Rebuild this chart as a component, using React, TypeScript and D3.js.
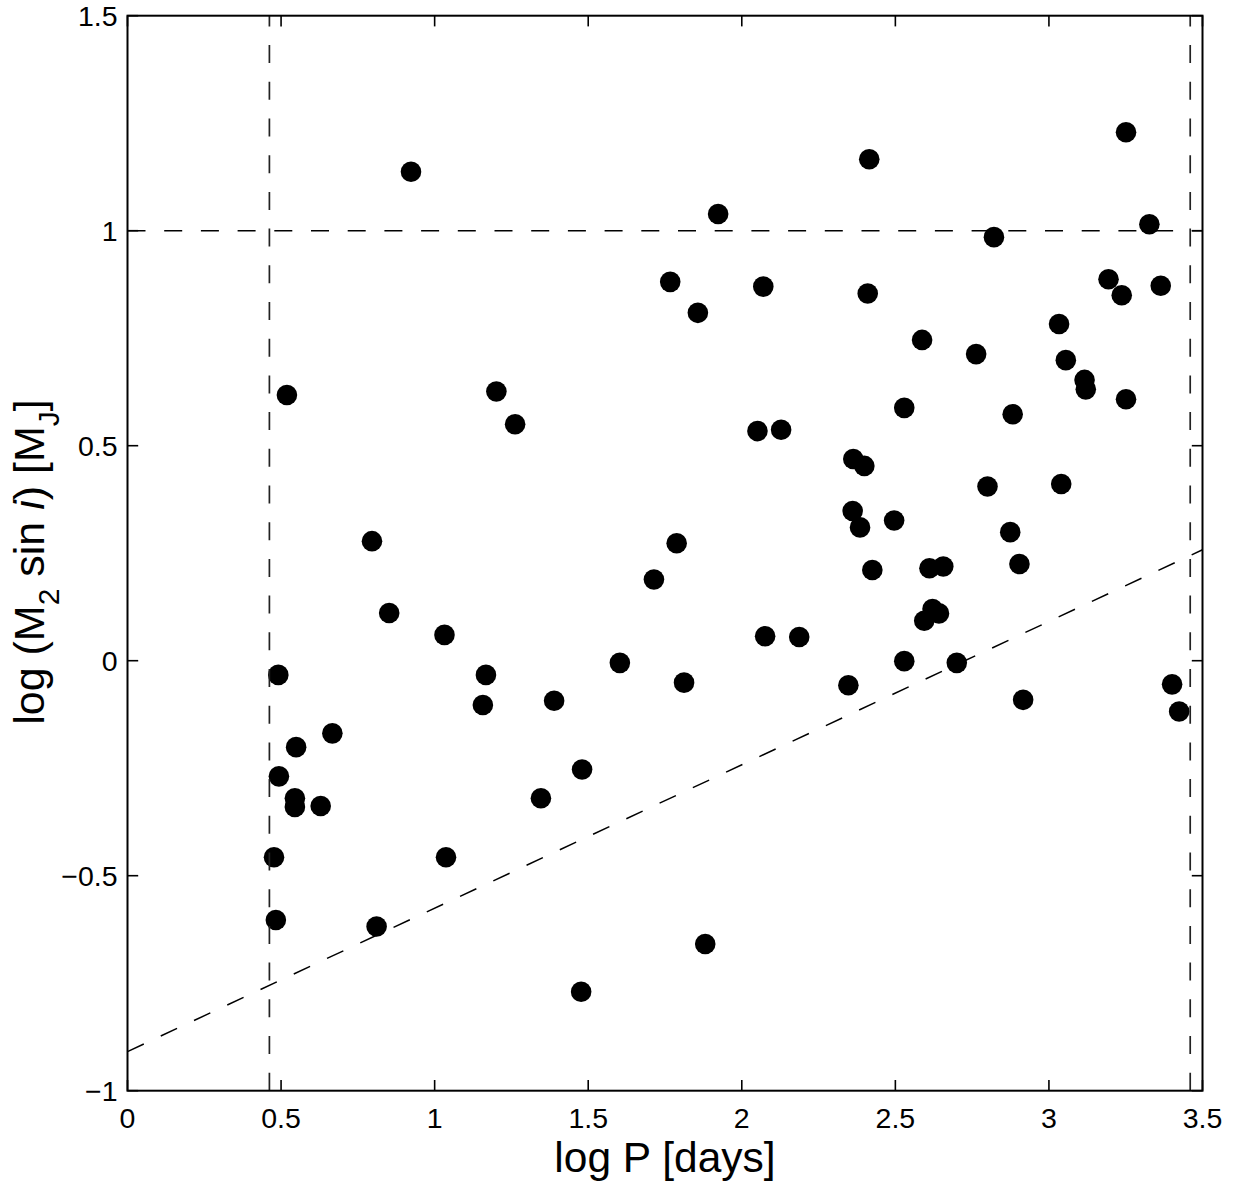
import React from 'react';
import * as d3 from 'd3';

// ---- data ----
const logP: number[] = [
  0.923, 3.251, 2.415, 1.923, 2.821, 3.327, 1.767, 1.857, 2.070, 2.410,
  3.194, 3.237, 3.364, 3.033, 3.055, 3.116, 3.120, 3.251, 2.587, 2.763,
  0.519, 1.201, 1.262, 2.051, 2.128, 2.529, 2.882, 2.363, 2.399, 2.800,
  3.040, 2.361, 2.385, 2.496, 2.874, 0.796, 1.788, 1.714, 2.425, 2.611,
  2.656, 2.904, 0.852, 2.621, 2.642, 2.594, 1.032, 2.076, 2.187, 0.491,
  1.167, 1.603, 2.529, 2.700, 1.812, 2.347, 3.401, 3.424, 2.916, 1.157,
  1.389, 0.667, 0.549, 0.493, 1.480, 0.545, 0.545, 0.629, 1.346, 0.477,
  1.037, 0.483, 0.811, 1.881, 1.477,
];
const logM: number[] = [
  1.137, 1.229, 1.166, 1.039, 0.985, 1.015, 0.881, 0.809, 0.870, 0.854,
  0.887, 0.850, 0.872, 0.783, 0.699, 0.653, 0.631, 0.608, 0.746, 0.713,
  0.618, 0.626, 0.550, 0.534, 0.537, 0.588, 0.573, 0.469, 0.453, 0.405,
  0.411, 0.348, 0.310, 0.326, 0.299, 0.278, 0.273, 0.189, 0.211, 0.215,
  0.219, 0.225, 0.111, 0.120, 0.110, 0.093, 0.060, 0.057, 0.055, -0.033,
  -0.033, -0.005, -0.001, -0.005, -0.051, -0.057, -0.055, -0.118, -0.091, -0.103,
  -0.093, -0.169, -0.201, -0.269, -0.253, -0.320, -0.340, -0.338, -0.320, -0.457,
  -0.457, -0.603, -0.618, -0.659, -0.770,
];

const xTicks: number[] = [0, 0.5, 1, 1.5, 2, 2.5, 3, 3.5];
const xTickLabels: string[] = ['0', '0.5', '1', '1.5', '2', '2.5', '3', '3.5'];
const yTicks: number[] = [-1, -0.5, 0, 0.5, 1, 1.5];
const yTickLabels: string[] = ['\u22121', '\u22120.5', '0', '0.5', '1', '1.5'];

const xDomain: [number, number] = [0, 3.5];
const yDomain: [number, number] = [-1, 1.5];

// reference lines
const verticalLines: number[] = [0.462, 3.46];
const horizontalLines: number[] = [1];
const diagonalLine: [number, number][] = [[0, -0.909], [3.5, 0.258]];

// ---- layout ----
const W = 1239;
const H = 1188;
const left = 127.5;
const right = 1202.5;
const top = 15.7;
const bottom = 1090.7;
const FONT = '"Liberation Sans", Arial, Helvetica, sans-serif';

export default function App() {
  const x = d3.scaleLinear().domain(xDomain).range([left, right]);
  const y = d3.scaleLinear().domain(yDomain).range([bottom, top]);
  const line = d3.line<[number, number]>().x((d) => x(d[0])).y((d) => y(d[1]));
  const tickLen = 10.7;
  const dash = '18 18.7';

  return (
    <svg width={W} height={H} style={{ position: 'absolute', left: 0, top: 0, background: '#fff' }}>
      <rect x={0} y={0} width={W} height={H} fill="#fff" />
      {/* points */}
      <g>
        {logP.map((p, i) => (
          <circle key={i} cx={x(p)} cy={y(logM[i])} r={10.3} fill="#000" />
        ))}
      </g>
      {/* reference dashed lines */}
      <g fill="none" stroke="#000" strokeWidth={1.5} strokeDasharray={dash}>
        {verticalLines.map((v, i) => (
          <path key={'v' + i} d={line([[v, yDomain[0]], [v, yDomain[1]]]) || ''} stroke="#222" strokeWidth={1.7} />
        ))}
        {horizontalLines.map((h, i) => (
          <path key={'h' + i} d={line([[xDomain[0], h], [xDomain[1], h]]) || ''} />
        ))}
        <path d={line(diagonalLine) || ''} />
      </g>
      {/* axes box */}
      <rect x={left} y={top} width={right - left} height={bottom - top} fill="none" stroke="#000" strokeWidth={2} />
      {/* ticks */}
      <g stroke="#000" strokeWidth={1.6}>
        {xTicks.map((t, i) => (
          <g key={'xt' + i}>
            <line x1={x(t)} x2={x(t)} y1={bottom} y2={bottom - tickLen} />
            <line x1={x(t)} x2={x(t)} y1={top} y2={top + tickLen} />
          </g>
        ))}
        {yTicks.map((t, i) => (
          <g key={'yt' + i}>
            <line x1={left} x2={left + tickLen} y1={y(t)} y2={y(t)} />
            <line x1={right} x2={right - tickLen} y1={y(t)} y2={y(t)} />
          </g>
        ))}
      </g>
      {/* tick labels */}
      <g fontFamily={FONT} fontSize={28.5} fill="#000">
        {xTicks.map((t, i) => (
          <text key={'xl' + i} x={x(t)} y={1127.5} textAnchor="middle">
            {xTickLabels[i]}
          </text>
        ))}
        {yTicks.map((t, i) => (
          <text key={'yl' + i} x={117.5} y={y(t) + 10} textAnchor="end">
            {yTickLabels[i]}
          </text>
        ))}
      </g>
      {/* axis labels */}
      <text x={(left + right) / 2} y={1172} textAnchor="middle" fontFamily={FONT} fontSize={42.5} fill="#000">
        log P [days]
      </text>
      <text
        transform={`translate(44, 562) rotate(-90)`}
        textAnchor="middle"
        fontFamily={FONT}
        fontSize={43}
        fill="#000"
      >
        <tspan>log (M</tspan>
        <tspan fontSize={30} dy={15}>2</tspan>
        <tspan dy={-15}> sin </tspan>
        <tspan fontStyle="italic">i</tspan>
        <tspan>) [M</tspan>
        <tspan fontSize={30} dy={15}>J</tspan>
        <tspan dy={-15}>]</tspan>
      </text>
    </svg>
  );
}
